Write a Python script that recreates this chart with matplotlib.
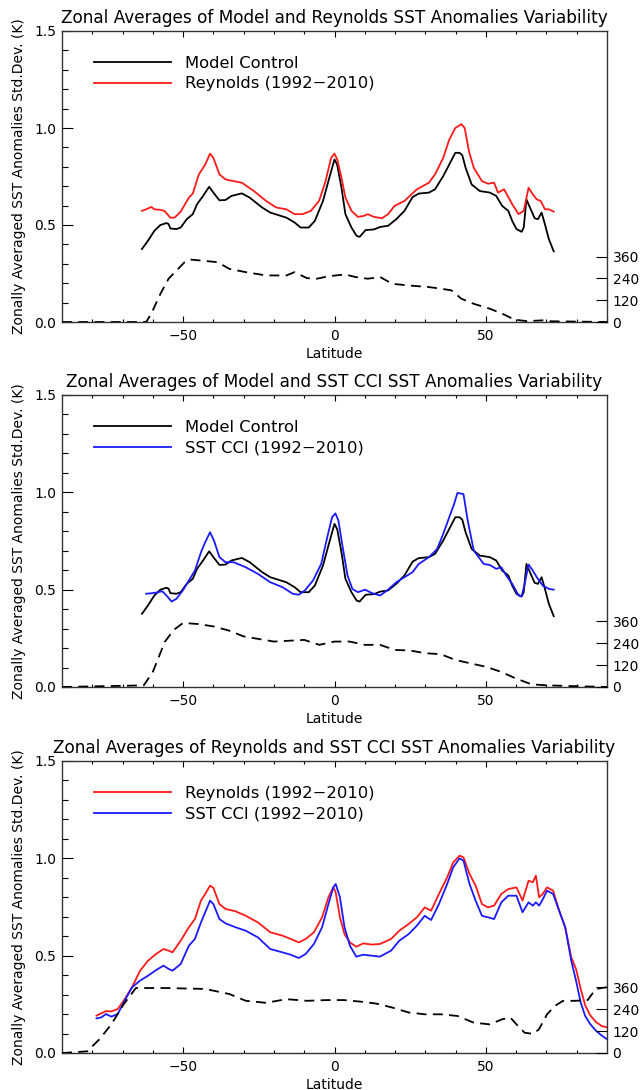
import matplotlib
matplotlib.use("Agg")
import matplotlib.pyplot as plt
import numpy as np

plt.rcParams['font.family'] = ['DejaVu Sans']

# --- model control run, zonal mean std.dev. of SST anomalies (K)
model_lat = [-63.6, -61.6, -59.5, -57.5, -55.5, -54.8, -54.2, -52.2, -50.8, -48.8, -46.8, -45.4, -43.4,
             -41.4, -40.0, -38.0, -36.0, -34.0, -30.6, -28.0, -23.9, -21.2, -15.9, -13.2, -11.2, -8.5,
             -6.5, -3.8, -1.7, 0.0, 0.9, 2.3, 3.6, 5.6, 7.3, 8.3, 10.3, 13.0, 15.1, 17.7, 20.4, 23.1,
             25.8, 27.8, 31.2, 33.2, 35.9, 37.9, 39.9, 41.3, 42.2, 43.3, 45.3, 48.0, 51.3, 53.4, 55.4,
             57.4, 58.7, 60.1, 61.8, 62.5, 63.4, 64.8, 66.1, 67.2, 68.4, 69.5, 70.8, 72.4]
model_std = [0.376, 0.419, 0.470, 0.500, 0.510, 0.505, 0.482, 0.479, 0.487, 0.530, 0.556, 0.607, 0.650,
             0.697, 0.667, 0.627, 0.629, 0.650, 0.663, 0.641, 0.590, 0.564, 0.538, 0.513, 0.487, 0.487,
             0.521, 0.624, 0.744, 0.838, 0.810, 0.692, 0.556, 0.487, 0.444, 0.439, 0.474, 0.477, 0.490,
             0.496, 0.530, 0.573, 0.644, 0.662, 0.667, 0.684, 0.752, 0.812, 0.872, 0.872, 0.860, 0.795,
             0.709, 0.675, 0.667, 0.650, 0.598, 0.573, 0.521, 0.479, 0.465, 0.487, 0.632, 0.581, 0.535,
             0.530, 0.564, 0.504, 0.427, 0.364]

# --- Reynolds on the model grid
rey1_lat = [-63.6, -62.2, -60.5, -59.5, -57.5, -56.2, -54.2, -52.8, -50.8, -48.1, -46.8, -44.8, -42.7,
            -41.1, -40.0, -38.0, -36.0, -33.3, -30.6, -26.6, -22.6, -19.2, -15.9, -13.2, -10.5, -7.8,
            -5.1, -3.1, -1.1, 0.0, 0.9, 2.3, 3.6, 5.6, 7.7, 9.7, 11.0, 13.0, 15.7, 17.7, 19.8, 23.1,
            27.2, 31.2, 33.2, 35.9, 37.9, 39.9, 41.9, 43.0, 44.4, 46.0, 48.7, 50.7, 52.7, 54.0, 56.0,
            58.7, 60.8, 62.5, 64.1, 65.5, 66.8, 68.1, 69.5, 70.8, 72.4]
rey1_std = [0.573, 0.581, 0.593, 0.581, 0.578, 0.573, 0.538, 0.538, 0.569, 0.641, 0.662, 0.761, 0.812,
            0.868, 0.846, 0.761, 0.735, 0.726, 0.718, 0.675, 0.624, 0.590, 0.581, 0.556, 0.556, 0.573,
            0.624, 0.718, 0.846, 0.868, 0.838, 0.744, 0.641, 0.573, 0.542, 0.547, 0.556, 0.542, 0.535,
            0.556, 0.598, 0.624, 0.684, 0.718, 0.761, 0.846, 0.940, 1.000, 1.020, 1.000, 0.880, 0.795,
            0.726, 0.713, 0.718, 0.667, 0.684, 0.607, 0.556, 0.573, 0.692, 0.658, 0.632, 0.624, 0.581,
            0.581, 0.569]

# --- SST CCI on the model grid
cci2_lat = [-62.2, -60.2, -58.2, -56.9, -55.5, -53.8, -52.2, -50.1, -48.1, -46.1, -44.1, -42.7, -41.1,
            -39.8, -38.0, -36.0, -33.3, -29.3, -25.3, -21.2, -17.2, -13.8, -11.8, -9.8, -7.1, -4.4,
            -2.4, -0.8, 0.3, 1.3, 2.7, 4.3, 5.9, 7.7, 10.1, 12.4, 15.1, 17.7, 20.4, 23.1, 25.8, 27.8,
            31.2, 33.9, 35.9, 37.9, 39.5, 40.6, 42.6, 44.0, 46.0, 49.3, 51.3, 53.4, 55.1, 56.7, 58.7,
            60.8, 61.8, 62.8, 64.1, 65.5, 66.8, 68.8, 70.8, 72.4]
cci2_std = [0.479, 0.482, 0.487, 0.492, 0.470, 0.439, 0.453, 0.496, 0.547, 0.598, 0.692, 0.744, 0.795,
            0.752, 0.667, 0.641, 0.641, 0.615, 0.581, 0.538, 0.513, 0.479, 0.474, 0.496, 0.547, 0.632,
            0.769, 0.872, 0.892, 0.855, 0.718, 0.573, 0.504, 0.487, 0.500, 0.482, 0.470, 0.500, 0.538,
            0.564, 0.590, 0.632, 0.667, 0.709, 0.786, 0.872, 0.940, 0.997, 0.991, 0.855, 0.701, 0.632,
            0.627, 0.607, 0.615, 0.573, 0.530, 0.470, 0.465, 0.530, 0.629, 0.598, 0.564, 0.521, 0.504,
            0.500]

# --- Reynolds and SST CCI on the common observation grid
obs_lat = [-78.6, -77.0, -75.5, -73.7, -71.6, -69.6, -66.9, -64.2, -61.6, -58.9, -56.5, -54.8, -53.5,
           -50.8, -48.1, -46.1, -44.1, -42.7, -41.1, -40.0, -38.0, -36.0, -32.7, -29.3, -25.3, -21.2,
           -17.2, -14.5, -11.8, -9.5, -6.8, -4.1, -2.0, -0.4, 0.4, 1.8, 3.3, 5.1, 7.2, 9.5, 12.3, 15.0,
           18.7, 21.4, 24.5, 27.2, 29.8, 31.9, 34.5, 37.2, 39.2, 41.3, 42.6, 44.6, 46.6, 48.7, 50.7,
           52.7, 55.1, 57.4, 60.1, 62.1, 64.1, 65.5, 66.5, 67.6, 68.8, 70.2, 72.2, 74.2, 76.2, 78.2,
           79.8, 81.3, 82.8, 84.4, 86.3, 88.3, 89.9]
rey3_std = [0.192, 0.204, 0.215, 0.214, 0.226, 0.269, 0.337, 0.423, 0.474, 0.509, 0.534, 0.526, 0.517,
            0.577, 0.646, 0.688, 0.783, 0.817, 0.860, 0.848, 0.765, 0.740, 0.728, 0.705, 0.671, 0.620,
            0.603, 0.586, 0.568, 0.586, 0.620, 0.697, 0.800, 0.851, 0.825, 0.697, 0.611, 0.568, 0.546,
            0.563, 0.557, 0.560, 0.586, 0.628, 0.663, 0.697, 0.748, 0.731, 0.817, 0.902, 0.979, 1.014,
            1.005, 0.920, 0.860, 0.765, 0.748, 0.757, 0.817, 0.842, 0.851, 0.783, 0.885, 0.877, 0.911,
            0.800, 0.817, 0.851, 0.834, 0.731, 0.646, 0.491, 0.430, 0.330, 0.245, 0.195, 0.160, 0.138,
            0.132]
cci3_std = [0.178, 0.183, 0.200, 0.187, 0.200, 0.260, 0.337, 0.372, 0.397, 0.426, 0.449, 0.432, 0.423,
            0.457, 0.551, 0.586, 0.671, 0.723, 0.783, 0.765, 0.688, 0.666, 0.646, 0.628, 0.594, 0.534,
            0.517, 0.505, 0.488, 0.509, 0.560, 0.646, 0.765, 0.851, 0.868, 0.800, 0.646, 0.551, 0.495,
            0.505, 0.500, 0.495, 0.526, 0.577, 0.611, 0.654, 0.705, 0.683, 0.765, 0.868, 0.954, 1.000,
            0.988, 0.868, 0.783, 0.705, 0.697, 0.688, 0.774, 0.808, 0.808, 0.723, 0.774, 0.757, 0.774,
            0.757, 0.790, 0.834, 0.817, 0.731, 0.646, 0.474, 0.370, 0.260, 0.190, 0.150, 0.115, 0.089,
            0.072]

# --- number of grid points per latitude band (right axis)
cnt1_lat = [-90, -62.2, -60.5, -57.5, -54.8, -52.2, -49.5, -47.4, -44.1, -38.7, -34.7, -29.3, -22.6,
            -15.9, -13.2, -9.1, -5.8, -2.4, 0.3, 3.6, 7.0, 11.0, 15.1, 19.1, 24.5, 31.2, 35.2, 38.6,
            41.9, 46.0, 51.3, 55.4, 59.4, 63.4, 68.8, 71.5, 90]
cnt1_val = [0, 0, 46, 155, 238, 283, 329, 343, 338, 329, 292, 274, 256, 256, 274, 241, 238, 250, 256,
            261, 247, 238, 247, 210, 201, 192, 183, 174, 128, 100, 73, 46, 13, 5, 9, 4, 0]
cnt2_lat = [-90, -63.0, -60.0, -56.0, -53.0, -50.0, -45.0, -40.0, -35.0, -30.0, -20.0, -10.0, -5.0,
            0.0, 5.0, 10.0, 15.0, 20.0, 25.0, 30.0, 35.0, 40.0, 45.0, 50.0, 55.0, 60.0, 65.0, 70.0, 90]
cnt2_val = [0, 9, 83, 249, 314, 351, 345, 332, 310, 277, 249, 258, 231, 249, 249, 231, 231, 203, 200,
            185, 180, 148, 129, 111, 83, 46, 15, 9, 0]
cnt3_lat = [-90, -81.7, -77.7, -73.7, -69.6, -65.6, -56.2, -42.7, -34.7, -29.3, -22.6, -15.9, -9.1,
            -2.4, 3.0, 8.3, 13.7, 19.1, 24.5, 29.8, 35.2, 40.6, 46.0, 51.3, 55.4, 58.1, 60.1, 62.8,
            65.5, 67.5, 70.2, 72.8, 75.5, 79.6, 83.6, 86.3, 89.9]
cnt3_val = [0, 9, 74, 157, 268, 356, 356, 351, 323, 286, 275, 295, 286, 290, 290, 282, 271, 249, 222,
            212, 212, 203, 166, 157, 185, 194, 157, 111, 105, 129, 212, 258, 286, 286, 290, 351, 360]

titles = ["Zonal Averages of Model and Reynolds SST Anomalies Variability",
          "Zonal Averages of Model and SST CCI SST Anomalies Variability",
          "Zonal Averages of Reynolds and SST CCI SST Anomalies Variability"]
ylab = "Zonally Averaged SST Anomalies Std.Dev. (K)"

panels = [
    [(model_lat, model_std, 'black', 'Model Control'),
     (rey1_lat, rey1_std, '#ff1a1a', 'Reynolds (1992\u22122010)')],
    [(model_lat, model_std, 'black', 'Model Control'),
     (cci2_lat, cci2_std, '#1a1aff', 'SST CCI (1992\u22122010)')],
    [(obs_lat, rey3_std, '#ff1a1a', 'Reynolds (1992\u22122010)'),
     (obs_lat, cci3_std, '#1a1aff', 'SST CCI (1992\u22122010)')],
]
counts = [(cnt1_lat, cnt1_val), (cnt2_lat, cnt2_val), (cnt3_lat, cnt3_val)]

W, H = 641, 1090
fig = plt.figure(figsize=(W / 100, H / 100), dpi=100)

# axes boxes in pixels: (top, bottom)
boxes = [(31, 322), (395, 687), (761, 1053)]
left, right = 62, 607
fs = 10

for i, (top, bot) in enumerate(boxes):
    ax = fig.add_axes([left / W, 1 - bot / H, (right - left) / W, (bot - top) / H])
    for lat, val, col, lab in panels[i]:
        ax.plot(lat, val, color=col, lw=1.3, label=lab)
    ax.set_xlim(-90, 90)
    ax.set_ylim(0, 1.5)
    ax.set_xticks([-50, 0, 50])
    ax.set_xticks(np.arange(-80, 90, 10), minor=True)
    ax.set_yticks([0.0, 0.5, 1.0, 1.5])
    ax.set_yticklabels(['0.0', '0.5', '1.0', '1.5'])
    ax.set_yticks(np.arange(0, 1.51, 0.1), minor=True)
    ax.tick_params(axis='x', which='major', direction='in', length=4.2, width=0.8, top=True,
                   labelsize=fs, pad=5)
    ax.tick_params(axis='x', which='minor', direction='in', length=2.2, width=0.8, top=True)
    ax.tick_params(axis='y', which='major', direction='in', length=7.8, width=0.8, right=False,
                   labelsize=fs, pad=4)
    ax.tick_params(axis='y', which='minor', direction='in', length=4, width=0.8, right=False)
    for s in ax.spines.values():
        s.set_linewidth(1.0)
        s.set_color('#333333')
    ax.set_title(titles[i], fontsize=12.2, pad=6)
    ax.set_xlabel('Latitude', fontsize=fs, labelpad=3)
    ax.set_ylabel(ylab, fontsize=fs, labelpad=6)
    ax.legend(loc='upper left', bbox_to_anchor=(0.058, 0.915), frameon=False, fontsize=11.8,
              handlelength=4.75, handletextpad=0.8, labelspacing=0.34, borderpad=0, borderaxespad=0)

    # grid point counts on the right axis
    ax2 = ax.twinx()
    ax2.plot(counts[i][0], counts[i][1], color='black', lw=1.3, ls=(0, (5.5, 3.5)))
    ax2.set_ylim(0, 1600)
    ax2.set_yticks([0, 120, 240, 360])
    ax2.tick_params(axis='y', direction='in', length=7.8, width=0.8, labelsize=fs, pad=4)
    for s in ax2.spines.values():
        s.set_visible(False)

fig.savefig('out.png', dpi=100)
